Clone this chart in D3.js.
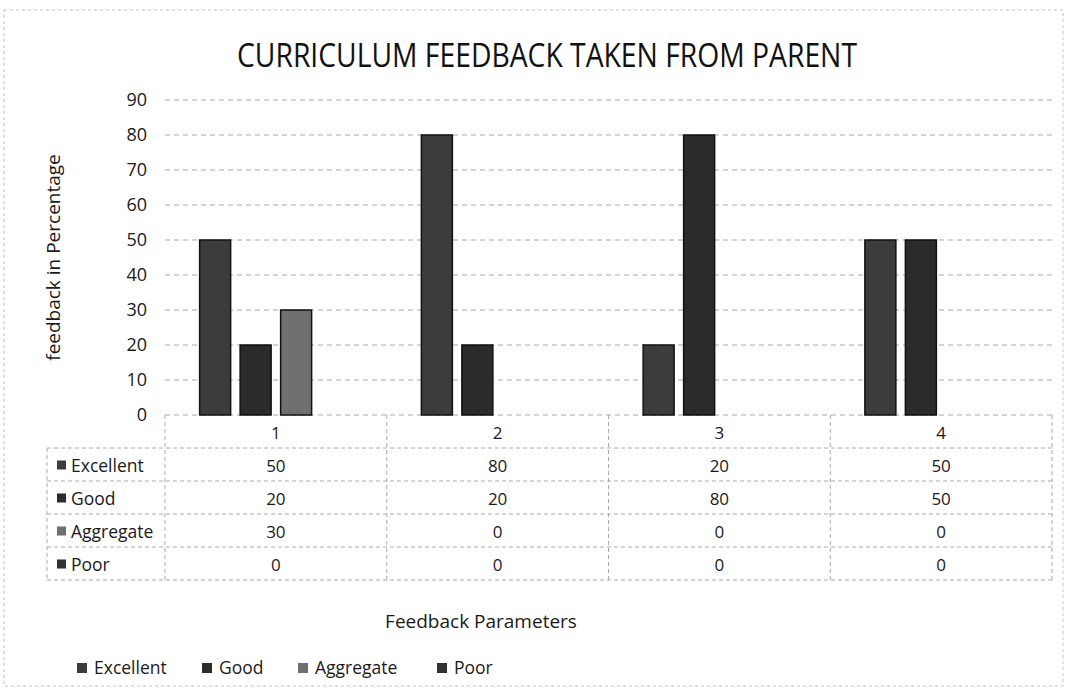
<!DOCTYPE html>
<html>
<head>
<meta charset="utf-8">
<script src="https://cdn.jsdelivr.net/npm/d3@7"></script>
<style>
  body { margin: 0; background: #fff; }
  text { font-family: "Open Sans", sans-serif; fill: #1a1a1a; }
</style>
</head>
<body>
<div id="chart"></div>
<script>
// data
const categories = ["1", "2", "3", "4"];
const seriesNames = ["Excellent", "Good", "Aggregate", "Poor"];
const excellent = [50, 80, 20, 50];
const good = [20, 20, 80, 50];
const aggregate = [30, 0, 0, 0];
const poor = [0, 0, 0, 0];
const yTicks = [0, 10, 20, 30, 40, 50, 60, 70, 80, 90];

const seriesValues = [excellent, good, aggregate, poor];
const seriesColors = ["#3c3c3c", "#2b2b2b", "#6f6f6f", "#333333"];

//dimensions
const width = 1069, height = 688;
const plot = {left: 165, right: 1052, top: 100, bottom: 415};
const rowH = 33;

const svg = d3.select("#chart")
  .append("svg")
    .attr("width", width)
    .attr("height", height);

//scanned page border
svg.append("rect")
  .attr("x", 4).attr("y", 10)
  .attr("width", width - 10).attr("height", height - 12)
  .attr("fill", "none")
  .attr("stroke", "#c4c4c4")
  .attr("stroke-dasharray", "3,3");

//scales
const x0 = d3.scaleBand()
  .domain(categories)
  .range([plot.left, plot.right]);

const x1 = d3.scaleBand()
  .domain(seriesNames)
  .range([0, x0.bandwidth()])
  .paddingInner(0.235)
  .paddingOuter(0.855);

const y = d3.scaleLinear()
  .domain([0, 90])
  .range([plot.bottom, plot.top]);

const color = d3.scaleOrdinal()
  .domain(seriesNames)
  .range(seriesColors);

//title
svg.append("text")
  .attr("x", 547).attr("y", 67)
  .attr("text-anchor", "middle")
  .attr("textLength", 620)
  .attr("lengthAdjust", "spacingAndGlyphs")
  .style("font-size", "33px")
  .style("fill", "#111")
  .text("CURRICULUM FEEDBACK TAKEN FROM PARENT");

//gridlines
svg.append("g")
  .selectAll("line")
  .data(yTicks)
  .join("line")
    .attr("x1", plot.left).attr("x2", plot.right)
    .attr("y1", d => y(d)).attr("y2", d => y(d))
    .attr("stroke", "#a8a8a8")
    .attr("stroke-dasharray", "5,4");

//y axis labels
const yAxis = d3.axisLeft(y).tickValues(yTicks).tickSize(0).tickPadding(18);
const yg = svg.append("g")
  .attr("transform", `translate(${plot.left},0)`)
  .call(yAxis);
yg.select(".domain").remove();
yg.selectAll("text")
  .style("font-size", "18px")
  .style("font-family", "Open Sans, sans-serif")
  .attr("fill", "#1a1a1a");

svg.append("text")
  .attr("transform", `translate(60, ${(plot.top + plot.bottom) / 2}) rotate(-90)`)
  .attr("text-anchor", "middle")
  .style("font-size", "19px")
  .text("feedback in Percentage");

//bars
const groups = svg.append("g")
  .selectAll("g")
  .data(categories)
  .join("g")
    .attr("transform", d => `translate(${x0(d)},0)`);

groups.selectAll("rect")
  .data((c, i) => seriesNames.map((s, j) => ({series: s, value: seriesValues[j][i]})))
  .join("rect")
    .filter(d => d.value > 0)
    .attr("x", d => x1(d.series))
    .attr("y", d => y(d.value))
    .attr("width", x1.bandwidth())
    .attr("height", d => y(0) - y(d.value))
    .attr("fill", d => color(d.series))
    .attr("stroke", "#111")
    .attr("stroke-width", 1.5);

//data table
const tableLeft = 47;
const table = svg.append("g");
const lineStyle = sel => sel.attr("stroke", "#aaa").attr("stroke-dasharray", "4,3");

//horizontal lines
const rowsY = d3.range(seriesNames.length + 1).map(i => plot.bottom + rowH * (i + 1));
table.selectAll("line.h")
  .data(rowsY)
  .join("line")
    .attr("class", "h")
    .attr("x1", tableLeft).attr("x2", plot.right)
    .attr("y1", d => d).attr("y2", d => d)
    .call(lineStyle);

//vertical lines
table.append("line")
  .attr("x1", tableLeft).attr("x2", tableLeft)
  .attr("y1", rowsY[0]).attr("y2", rowsY[rowsY.length - 1])
  .call(lineStyle);
table.selectAll("line.v")
  .data(categories.map(c => x0(c)).concat([plot.right]))
  .join("line")
    .attr("class", "v")
    .attr("x1", d => d).attr("x2", d => d)
    .attr("y1", plot.bottom).attr("y2", rowsY[rowsY.length - 1])
    .call(lineStyle);

//category header
table.selectAll("text.cat")
  .data(categories)
  .join("text")
    .attr("class", "cat")
    .attr("x", d => x0(d) + x0.bandwidth() / 2)
    .attr("y", plot.bottom + rowH / 2 + 7)
    .attr("text-anchor", "middle")
    .style("font-size", "17px")
    .text(d => d);

//row keys + values
seriesNames.forEach((s, j) => {
  const cy = plot.bottom + rowH * (j + 1) + rowH / 2;
  table.append("rect")
    .attr("x", 57).attr("y", cy - 4)
    .attr("width", 9).attr("height", 9)
    .attr("fill", color(s));
  table.append("text")
    .attr("x", 71).attr("y", cy + 7)
    .style("font-size", "17.5px")
    .text(s);
  table.selectAll(null)
    .data(seriesValues[j])
    .join("text")
      .attr("x", (d, i) => x0(categories[i]) + x0.bandwidth() / 2)
      .attr("y", cy + 7)
      .attr("text-anchor", "middle")
      .style("font-size", "17px")
      .text(d => d);
});

//x axis title
svg.append("text")
  .attr("x", 481).attr("y", 628)
  .attr("text-anchor", "middle")
  .style("font-size", "19px")
  .text("Feedback Parameters");

//legend
const legendX = [77, 202, 298, 437];
const legend = svg.append("g")
  .selectAll("g")
  .data(seriesNames)
  .join("g")
    .attr("transform", (d, i) => `translate(${legendX[i]}, 668)`);
legend.append("rect")
  .attr("x", 0).attr("y", -5)
  .attr("width", 10).attr("height", 10)
  .attr("fill", d => color(d));
legend.append("text")
  .attr("x", 17).attr("y", 6)
  .style("font-size", "17.5px")
  .text(d => d);
</script>
</body>
</html>
